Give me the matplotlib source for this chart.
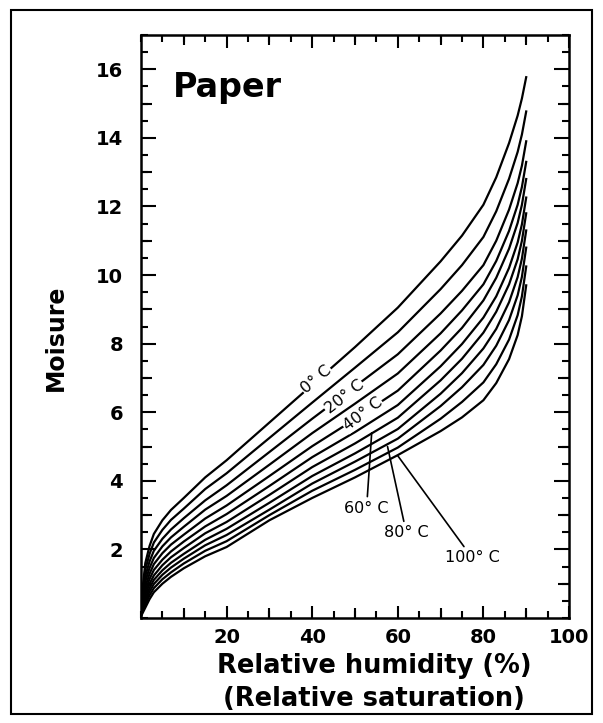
import matplotlib
matplotlib.use("Agg")
import matplotlib.pyplot as plt
from matplotlib.patches import Rectangle
from matplotlib.ticker import MultipleLocator, FixedLocator

# relative humidity (%) at which the isotherms were read
rh = [0, 1, 2, 3, 5, 7, 10, 15, 20, 30, 40, 50, 60, 70, 75, 80, 83, 86, 88, 89, 90]

# moisture content, one list per temperature (0 .. 100 C)
m00 = [0.40, 1.60, 2.10, 2.45, 2.85, 3.15, 3.50, 4.10, 4.60, 5.70, 6.80, 7.90, 9.05, 10.40, 11.15, 12.05, 12.85, 13.85, 14.65, 15.15, 15.77]
m10 = [0.35, 1.41, 1.87, 2.20, 2.57, 2.86, 3.19, 3.76, 4.22, 5.25, 6.28, 7.30, 8.33, 9.59, 10.29, 11.11, 11.86, 12.81, 13.59, 14.10, 14.77]
m20 = [0.30, 1.22, 1.65, 1.96, 2.31, 2.58, 2.91, 3.43, 3.87, 4.84, 5.81, 6.75, 7.69, 8.88, 9.54, 10.29, 11.00, 11.91, 12.68, 13.19, 13.90]
m30 = [0.26, 1.07, 1.46, 1.75, 2.09, 2.35, 2.66, 3.16, 3.56, 4.47, 5.39, 6.25, 7.13, 8.30, 8.97, 9.73, 10.41, 11.29, 12.05, 12.57, 13.30]
m40 = [0.22, 0.92, 1.29, 1.57, 1.89, 2.14, 2.43, 2.90, 3.28, 4.14, 5.01, 5.80, 6.63, 7.80, 8.46, 9.26, 9.92, 10.77, 11.52, 12.05, 12.80]
m50 = [0.18, 0.79, 1.14, 1.40, 1.70, 1.94, 2.23, 2.67, 3.03, 3.85, 4.69, 5.42, 6.21, 7.34, 7.99, 8.76, 9.38, 10.21, 10.95, 11.48, 12.26]
m60 = [0.15, 0.68, 1.00, 1.24, 1.54, 1.77, 2.04, 2.47, 2.80, 3.59, 4.40, 5.09, 5.84, 6.93, 7.56, 8.32, 8.93, 9.73, 10.46, 11.00, 11.80]
m70 = [0.12, 0.57, 0.88, 1.11, 1.39, 1.61, 1.87, 2.28, 2.60, 3.36, 4.14, 4.80, 5.51, 6.54, 7.14, 7.86, 8.43, 9.21, 9.94, 10.48, 11.30]
m80 = [0.10, 0.48, 0.77, 0.99, 1.26, 1.47, 1.73, 2.12, 2.42, 3.16, 3.92, 4.56, 5.23, 6.18, 6.73, 7.38, 7.94, 8.69, 9.41, 9.95, 10.80]
m90 = [0.07, 0.39, 0.66, 0.87, 1.13, 1.33, 1.59, 1.96, 2.24, 3.00, 3.71, 4.32, 4.97, 5.81, 6.30, 6.87, 7.40, 8.12, 8.83, 9.38, 10.25]
m100 = [0.05, 0.30, 0.55, 0.75, 1.00, 1.20, 1.45, 1.80, 2.07, 2.85, 3.50, 4.10, 4.75, 5.45, 5.85, 6.35, 6.85, 7.55, 8.25, 8.80, 9.70]

curves = [m00, m10, m20, m30, m40, m50, m60, m70, m80, m90, m100]

x_ticks = [20, 40, 60, 80, 100]
y_ticks = [2, 4, 6, 8, 10, 12, 14, 16]

W, H = 603, 723
FAM = "DejaVu Sans"

fig = plt.figure(figsize=(W / 100, H / 100), dpi=100)

# outer frame round the whole picture
fig.patches.append(Rectangle((11 / W, 1 - 714 / H), (592 - 11) / W, (714 - 10) / H,
                             transform=fig.transFigure, fill=False,
                             edgecolor="black", lw=1.5))

pos = [141 / W, 1 - 618 / H, (569 - 141) / W, (618 - 35) / H]
ax = fig.add_axes(pos)
ax.set_xlim(0, 100)
ax.set_ylim(0, 17)

for m in curves:
    ax.plot(rh, m, color="black", lw=1.6, solid_joinstyle="round")

for s in ax.spines.values():
    s.set_linewidth(1.8)

ax.set_xticks(x_ticks)
ax.set_yticks(y_ticks)
ax.xaxis.set_minor_locator(MultipleLocator(5))
ax.yaxis.set_minor_locator(MultipleLocator(0.5))
ax.tick_params(which="both", direction="in", top=True, right=True, width=1.5)
ax.tick_params(which="major", length=11)
ax.tick_params(which="minor", length=5)
ax.tick_params(axis="y", which="major", pad=13)
ax.tick_params(axis="x", which="major", pad=7, length=9)
for lab in ax.get_xticklabels() + ax.get_yticklabels():
    lab.set_fontfamily(FAM)
    lab.set_fontweight("bold")
    lab.set_fontsize(14)

# medium ticks at odd integers / every 10 %
ax_mid = fig.add_axes(pos, frameon=False)
ax_mid.set_xlim(0, 100)
ax_mid.set_ylim(0, 17)
ax_mid.xaxis.set_major_locator(FixedLocator([10, 30, 50, 70, 90]))
ax_mid.yaxis.set_major_locator(FixedLocator(list(range(1, 17, 2))))
ax_mid.tick_params(direction="in", top=True, right=True, width=1.5,
                   labelbottom=False, labelleft=False)
ax_mid.tick_params(axis="y", length=8)
ax_mid.tick_params(axis="x", length=7)
ax_mid.patch.set_visible(False)

ax.text(0.075, 0.894, "Paper", transform=ax.transAxes, fontsize=24,
        fontweight="bold", fontfamily=FAM, ha="left", va="baseline")

# temperature labels lying on the curves
lab_kw = dict(fontsize=11.5, fontfamily=FAM, ha="center", va="center",
              rotation_mode="anchor",
              bbox=dict(facecolor="white", edgecolor="none", pad=0.6))
ax.text(41, 6.95, "0° C", rotation=40, **lab_kw)
ax.text(47.5, 6.45, "20° C", rotation=38, **lab_kw)
ax.text(51.8, 5.95, "40° C", rotation=37, **lab_kw)

ann_kw = dict(fontsize=11.5, fontfamily=FAM, ha="center", va="center",
              arrowprops=dict(arrowstyle="-", color="black", lw=1.2,
                              shrinkA=1, shrinkB=0))
ax.annotate("60° C", xy=(53.9, 5.4), xytext=(52.7, 3.2), **ann_kw)
ax.annotate("80° C", xy=(57.6, 5.0), xytext=(62.0, 2.48), **ann_kw)
ax.annotate("100° C", xy=(60.0, 4.73), xytext=(77.4, 1.75), **ann_kw)

fig.text(56 / W, 1 - 338 / H, "Moisure", rotation=90, fontsize=17,
         fontweight="bold", fontfamily=FAM, ha="center", va="center")
fig.text(374 / W, 1 - 666 / H, "Relative humidity (%)", fontsize=18.5,
         fontweight="bold", fontfamily=FAM, ha="center", va="center")
fig.text(374 / W, 1 - 699 / H, "(Relative saturation)", fontsize=18.5,
         fontweight="bold", fontfamily=FAM, ha="center", va="center")

fig.savefig("out.png", dpi=100, facecolor="white")
